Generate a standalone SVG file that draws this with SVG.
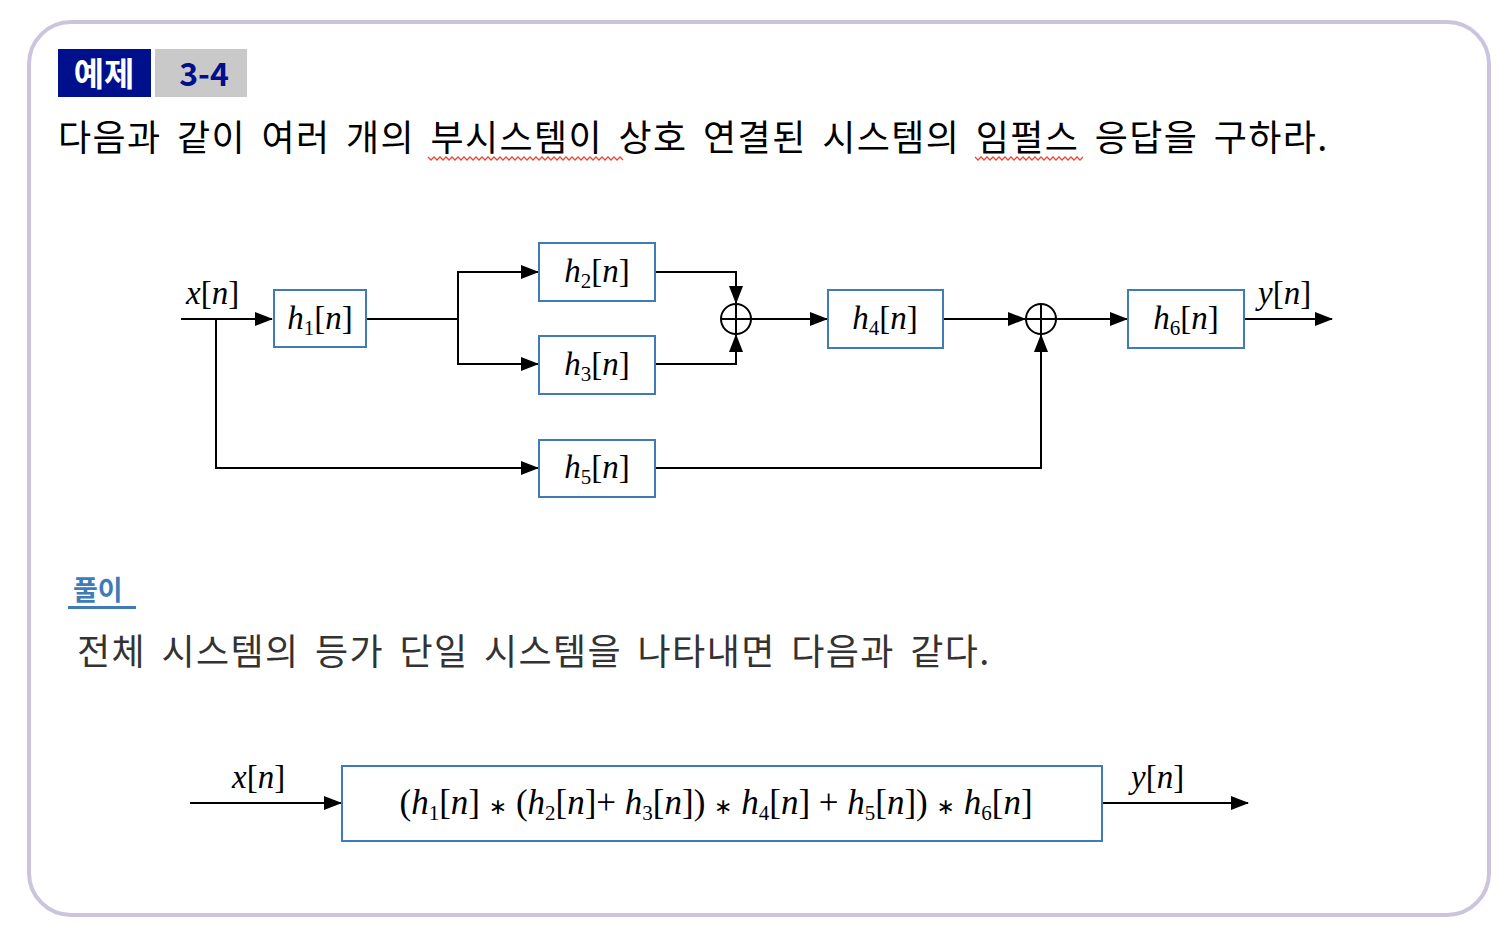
<svg xmlns="http://www.w3.org/2000/svg" width="1510" height="940" viewBox="0 0 1510 940">
<defs>
<marker id="arr" markerUnits="userSpaceOnUse" markerWidth="18" markerHeight="14" refX="17" refY="7" orient="auto">
<path d="M0,0 L18,7 L0,14 z" fill="#000"/>
</marker>
<style>
.kr{font-family:"Noto Sans CJK KR","Noto Sans",sans-serif;}
.box{fill:#fff;stroke:#3f7bb8;stroke-width:2;}
.wire{fill:none;stroke:#000;stroke-width:2;}
.m{font-family:"Liberation Serif",serif;font-size:33px;fill:#000;}
.i{font-style:italic;}
.sub{font-size:21px;}
.op{font-family:"DejaVu Sans",sans-serif;font-size:22px;}
.sq{fill:none;stroke:#e8483a;stroke-width:1.3;}
</style>
</defs>
<rect width="1510" height="940" fill="#fff"/>
<rect x="29" y="22" width="1460" height="893" rx="42" ry="42" fill="#fff" stroke="#cbc4dc" stroke-width="4"/>

<g id="badge">
<rect x="58" y="49" width="93" height="48" fill="#000f8c"/>
<rect x="155" y="49" width="92" height="48" fill="#c9c9c9"/>
<text x="104" y="86" class="kr" font-size="33" font-weight="bold" fill="#fff" text-anchor="middle">예제</text>
<text x="204" y="86" class="kr" font-size="32" font-weight="bold" fill="#000f8c" text-anchor="middle">3-4</text>
</g>

<g id="title">
<text x="58" y="151" class="kr" font-size="36" fill="#000" letter-spacing="1.4" word-spacing="6">다음과 같이 여러 개의 부시스템이 상호 연결된 시스템의 임펄스 응답을 구하라.</text>
<path class="sq" d="M428,157 l3,3 l3,-3 l3,3 l3,-3 l3,3 l3,-3 l3,3 l3,-3 l3,3 l3,-3 l3,3 l3,-3 l3,3 l3,-3 l3,3 l3,-3 l3,3 l3,-3 l3,3 l3,-3 l3,3 l3,-3 l3,3 l3,-3 l3,3 l3,-3 l3,3 l3,-3 l3,3 l3,-3 l3,3 l3,-3 l3,3 l3,-3 l3,3 l3,-3 l3,3 l3,-3 l3,3 l3,-3 l3,3 l3,-3 l3,3 l3,-3 l3,3 l3,-3 l3,3 l3,-3 l3,3 l3,-3 l3,3 l3,-3 l3,3 l3,-3 l3,3 l3,-3 l3,3 l3,-3 l3,3 l3,-3 l3,3 l3,-3 l3,3 l3,-3 l3,3"/>
<path class="sq" d="M975,157 l3,3 l3,-3 l3,3 l3,-3 l3,3 l3,-3 l3,3 l3,-3 l3,3 l3,-3 l3,3 l3,-3 l3,3 l3,-3 l3,3 l3,-3 l3,3 l3,-3 l3,3 l3,-3 l3,3 l3,-3 l3,3 l3,-3 l3,3 l3,-3 l3,3 l3,-3 l3,3 l3,-3 l3,3 l3,-3 l3,3 l3,-3 l3,3 l3,-3"/>
</g>

<g id="connectors">
<path class="wire" d="M181,319 H272" marker-end="url(#arr)"/>
<path class="wire" d="M216,319 V468 H538" marker-end="url(#arr)"/>
<path class="wire" d="M366,319 H458"/>
<path class="wire" d="M458,319 V272 H538" marker-end="url(#arr)"/>
<path class="wire" d="M458,319 V364 H538" marker-end="url(#arr)"/>
<path class="wire" d="M655,272 H736 V303" marker-end="url(#arr)"/>
<path class="wire" d="M655,364 H736 V335" marker-end="url(#arr)"/>
<path class="wire" d="M751,319 H827" marker-end="url(#arr)"/>
<path class="wire" d="M943,319 H1025" marker-end="url(#arr)"/>
<path class="wire" d="M655,468 H1041 V335" marker-end="url(#arr)"/>
<path class="wire" d="M1056,319 H1127" marker-end="url(#arr)"/>
<path class="wire" d="M1244,319 H1332" marker-end="url(#arr)"/>
<path class="wire" d="M190,803 H341" marker-end="url(#arr)"/>
<path class="wire" d="M1102,803 H1248" marker-end="url(#arr)"/>
</g>

<g id="labels">
<text x="186" y="304" class="m"><tspan class="i">x</tspan>[<tspan class="i">n</tspan>]</text>
<text x="1258" y="304" class="m"><tspan class="i">y</tspan>[<tspan class="i">n</tspan>]</text>
<text x="232" y="788" class="m"><tspan class="i">x</tspan>[<tspan class="i">n</tspan>]</text>
<text x="1131" y="788" class="m"><tspan class="i">y</tspan>[<tspan class="i">n</tspan>]</text>
</g>

<g id="h1">
<rect class="box" x="274" y="290" width="92" height="57"/>
<text x="320" y="329" class="m" text-anchor="middle"><tspan class="i">h</tspan><tspan class="sub" dy="6">1</tspan><tspan dy="-6">[</tspan><tspan class="i">n</tspan>]</text>
</g>
<g id="h2">
<rect class="box" x="539" y="243" width="116" height="58"/>
<text x="597" y="282" class="m" text-anchor="middle"><tspan class="i">h</tspan><tspan class="sub" dy="6">2</tspan><tspan dy="-6">[</tspan><tspan class="i">n</tspan>]</text>
</g>
<g id="h3">
<rect class="box" x="539" y="336" width="116" height="58"/>
<text x="597" y="375" class="m" text-anchor="middle"><tspan class="i">h</tspan><tspan class="sub" dy="6">3</tspan><tspan dy="-6">[</tspan><tspan class="i">n</tspan>]</text>
</g>
<g id="h4">
<rect class="box" x="828" y="290" width="115" height="58"/>
<text x="885" y="329" class="m" text-anchor="middle"><tspan class="i">h</tspan><tspan class="sub" dy="6">4</tspan><tspan dy="-6">[</tspan><tspan class="i">n</tspan>]</text>
</g>
<g id="h5">
<rect class="box" x="539" y="440" width="116" height="57"/>
<text x="597" y="478" class="m" text-anchor="middle"><tspan class="i">h</tspan><tspan class="sub" dy="6">5</tspan><tspan dy="-6">[</tspan><tspan class="i">n</tspan>]</text>
</g>
<g id="h6">
<rect class="box" x="1128" y="290" width="116" height="58"/>
<text x="1186" y="329" class="m" text-anchor="middle"><tspan class="i">h</tspan><tspan class="sub" dy="6">6</tspan><tspan dy="-6">[</tspan><tspan class="i">n</tspan>]</text>
</g>
<g id="sum1">
<circle cx="736" cy="319" r="15" fill="#fff" stroke="#000" stroke-width="2"/>
<path d="M721,319 H751 M736,304 V334" stroke="#000" stroke-width="2"/>
</g>
<g id="sum2">
<circle cx="1041" cy="319" r="15" fill="#fff" stroke="#000" stroke-width="2"/>
<path d="M1026,319 H1056 M1041,304 V334" stroke="#000" stroke-width="2"/>
</g>

<g id="solution">
<text x="73" y="600" class="kr" font-size="27" font-weight="bold" fill="#3f7bb8">풀이</text>
<rect x="68" y="606" width="68" height="3" fill="#3f7bb8"/>
<text x="77" y="665" class="kr" font-size="36" fill="#333" letter-spacing="1.4" word-spacing="6">전체 시스템의 등가 단일 시스템을 나타내면 다음과 같다.</text>
</g>

<g id="equiv">
<rect class="box" x="342" y="766" width="760" height="75"/>
<text x="716" y="814" class="m" style="font-size:35px" text-anchor="middle">(<tspan class="i">h</tspan><tspan class="sub" dy="6">1</tspan><tspan dy="-6">[</tspan><tspan class="i">n</tspan>] <tspan class="op">∗</tspan> (<tspan class="i">h</tspan><tspan class="sub" dy="6">2</tspan><tspan dy="-6">[</tspan><tspan class="i">n</tspan>]+ <tspan class="i">h</tspan><tspan class="sub" dy="6">3</tspan><tspan dy="-6">[</tspan><tspan class="i">n</tspan>]) <tspan class="op">∗</tspan> <tspan class="i">h</tspan><tspan class="sub" dy="6">4</tspan><tspan dy="-6">[</tspan><tspan class="i">n</tspan>] + <tspan class="i">h</tspan><tspan class="sub" dy="6">5</tspan><tspan dy="-6">[</tspan><tspan class="i">n</tspan>]) <tspan class="op">∗</tspan> <tspan class="i">h</tspan><tspan class="sub" dy="6">6</tspan><tspan dy="-6">[</tspan><tspan class="i">n</tspan>]</text>
</g>
</svg>
